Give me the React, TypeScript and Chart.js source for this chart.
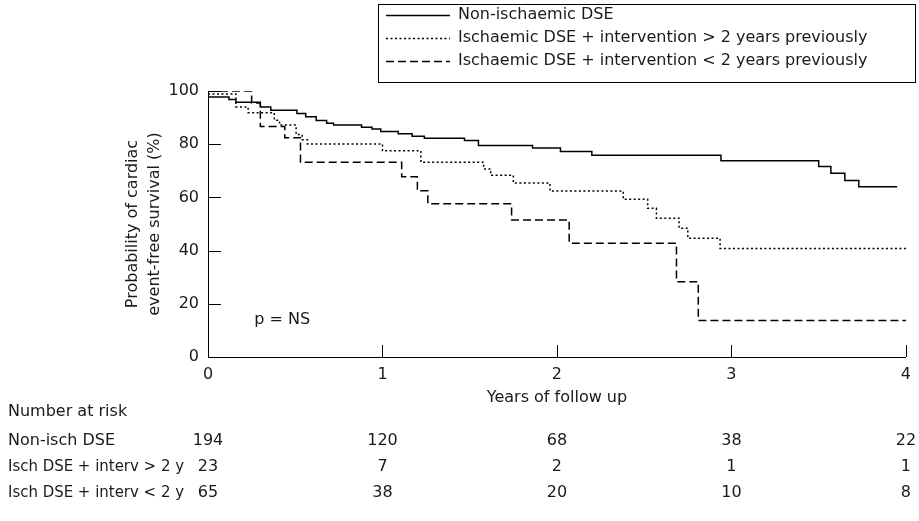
import { useEffect, useRef } from 'react';
import { Chart, registerables } from 'chart.js';

Chart.register(...registerables);

const FONT = "'DejaVu Sans', sans-serif";
const TEXT = '#1a1a1a';

const seriesLabels = [
  'Non-ischaemic DSE',
  'Ischaemic DSE + intervention > 2 years previously',
  'Ischaemic DSE + intervention < 2 years previously',
];

const nonIschTimes = [0, 0.12, 0.16, 0.3, 0.36, 0.51, 0.56, 0.62, 0.68, 0.72, 0.88, 0.94, 0.99, 1.09, 1.17, 1.24, 1.47, 1.55, 1.86, 2.02, 2.2, 2.94, 3.5, 3.57, 3.65, 3.73, 3.95];
const nonIschSurvival = [97.7, 96.8, 95.8, 94.0, 92.8, 91.5, 90.3, 88.9, 87.9, 87.2, 86.4, 85.7, 84.8, 83.9, 83.0, 82.2, 81.4, 79.5, 78.6, 77.3, 75.8, 73.8, 71.6, 69.1, 66.4, 64.0, 64.0];

const oldIntervTimes = [0, 0.16, 0.23, 0.38, 0.41, 0.505, 0.54, 0.57, 1.0, 1.22, 1.58, 1.62, 1.75, 1.96, 2.38, 2.52, 2.57, 2.7, 2.75, 2.935, 4.0];
const oldIntervSurvival = [98.9, 94.0, 91.8, 89.0, 87.2, 83.6, 81.7, 80.1, 77.5, 73.2, 70.7, 68.3, 65.4, 62.4, 59.3, 55.9, 52.2, 48.4, 44.6, 40.8, 40.8];

const recentIntervTimes = [0, 0.25, 0.3, 0.44, 0.53, 1.11, 1.2, 1.26, 1.74, 2.07, 2.685, 2.81, 4.0];
const recentIntervSurvival = [100, 95.5, 86.7, 82.4, 73.2, 67.8, 62.5, 57.6, 51.5, 42.8, 28.3, 13.7, 13.7];

const xTicks = [0, 1, 2, 3, 4];
const yTicks = [0, 20, 40, 60, 80, 100];

const riskHeader = 'Number at risk';
const riskRowLabels = ['Non-isch DSE', 'Isch DSE + interv > 2 y', 'Isch DSE + interv < 2 y'];
const riskTimes = [0, 1, 2, 3, 4];
const riskNonIsch = [194, 120, 68, 38, 22];
const riskOldInterv = [23, 7, 2, 1, 1];
const riskRecentInterv = [65, 38, 20, 10, 8];

const pValueText = 'p = NS';

const toPoints = (xs: number[], ys: number[]) => xs.map((t, i) => ({ x: t, y: ys[i] }));

const overlayPlugin = {
  id: 'overlay',
  afterDraw(chart: any) {
    const { ctx, chartArea } = chart;
    const xs = chart.scales.x;
    const ys = chart.scales.y;
    ctx.save();
    ctx.strokeStyle = '#000';
    ctx.lineWidth = 1;
    ctx.setLineDash([]);
    // inward tick marks
    yTicks.forEach((v) => {
      if (v === 0) return;
      const py = Math.round(ys.getPixelForValue(v)) + 0.5;
      ctx.beginPath();
      ctx.moveTo(chartArea.left, py);
      ctx.lineTo(chartArea.left + 13, py);
      ctx.stroke();
    });
    xTicks.forEach((v) => {
      if (v === 0) return;
      const px = Math.round(xs.getPixelForValue(v)) + 0.5;
      ctx.beginPath();
      ctx.moveTo(px, chartArea.bottom);
      ctx.lineTo(px, chartArea.bottom - 12);
      ctx.stroke();
    });

    // legend box
    const bx = 378, by = 4, bw = 537, bh = 78;
    ctx.strokeRect(bx + 0.5, by + 0.5, bw, bh);
    ctx.font = `16px ${FONT}`;
    ctx.textBaseline = 'middle';
    ctx.textAlign = 'left';
    chart.data.datasets.forEach((ds: any, i: number) => {
      const ry = 15 + i * 23;
      ctx.save();
      ctx.strokeStyle = '#000';
      ctx.lineWidth = ds.borderWidth;
      ctx.setLineDash(ds.borderDash || []);
      ctx.beginPath();
      ctx.moveTo(386, ry + 0.5);
      ctx.lineTo(450, ry + 0.5);
      ctx.stroke();
      ctx.restore();
      ctx.fillStyle = TEXT;
      ctx.fillText(ds.label, 458, ry);
    });

    // p value annotation
    ctx.fillStyle = TEXT;
    ctx.fillText(pValueText, xs.getPixelForValue(0.265), ys.getPixelForValue(14));

    // number at risk table
    ctx.fillText(riskHeader, 8, 412);
    const rows = [riskNonIsch, riskOldInterv, riskRecentInterv];
    rows.forEach((row, i) => {
      const ry = 441 + i * 26;
      ctx.textAlign = 'left';
      ctx.fillText(riskRowLabels[i], 8, ry, 176);
      ctx.textAlign = 'center';
      row.forEach((n, j) => {
        ctx.fillText(String(n), xs.getPixelForValue(riskTimes[j]), ry);
      });
    });
    ctx.restore();
  },
};

export default function App() {
  const canvasRef = useRef<HTMLCanvasElement | null>(null);

  useEffect(() => {
    if (!canvasRef.current) return;
    Chart.defaults.font.family = FONT;
    Chart.defaults.color = TEXT;
    const common = { stepped: 'before' as const, pointRadius: 0, fill: false, borderColor: '#000', backgroundColor: '#000', borderWidth: 1.5 };
    const chart = new Chart(canvasRef.current, {
      type: 'line',
      data: {
        datasets: [
          { ...common, label: seriesLabels[0], data: toPoints(nonIschTimes, nonIschSurvival), borderDash: [] },
          { ...common, label: seriesLabels[1], data: toPoints(oldIntervTimes, oldIntervSurvival), borderDash: [2, 2.5] },
          { ...common, label: seriesLabels[2], data: toPoints(recentIntervTimes, recentIntervSurvival), borderDash: [8, 4] },
        ],
      },
      options: {
        animation: false,
        responsive: true,
        maintainAspectRatio: false,
        layout: { padding: { left: 122, right: 9, top: 91, bottom: 112 } },
        plugins: { legend: { display: false }, tooltip: { enabled: false } },
        scales: {
          x: {
            type: 'linear',
            min: 0,
            max: 4,
            afterFit: (s: any) => { s.height = 52; },
            afterBuildTicks: (s: any) => { s.ticks = xTicks.map((v) => ({ value: v })); },
            grid: { display: false, drawTicks: false },
            border: { display: true, color: '#000', width: 1 },
            ticks: { padding: 8, color: TEXT, font: { size: 16, family: FONT }, maxRotation: 0 },
            title: { display: true, text: 'Years of follow up', color: TEXT, font: { size: 16, family: FONT, lineHeight: 1.2 }, padding: { top: 0, bottom: 2 } },
          },
          y: {
            type: 'linear',
            min: 0,
            max: 100,
            afterFit: (s: any) => { s.width = 86; },
            afterBuildTicks: (s: any) => { s.ticks = yTicks.map((v) => ({ value: v })); },
            grid: { display: false, drawTicks: false },
            border: { display: true, color: '#000', width: 1 },
            ticks: { padding: 9, color: TEXT, font: { size: 16, family: FONT } },
            title: { display: true, text: ['Probability of cardiac', 'event-free survival (%)'], color: TEXT, font: { size: 16, family: FONT, lineHeight: 1.375 }, padding: { top: 0, bottom: 0 } },
          },
        },
      },
      plugins: [overlayPlugin],
    });
    return () => chart.destroy();
  }, []);

  return (
    <div style={{ position: 'absolute', left: 0, top: 0, width: 919, height: 521, background: '#fff' }}>
      <canvas ref={canvasRef} />
    </div>
  );
}
